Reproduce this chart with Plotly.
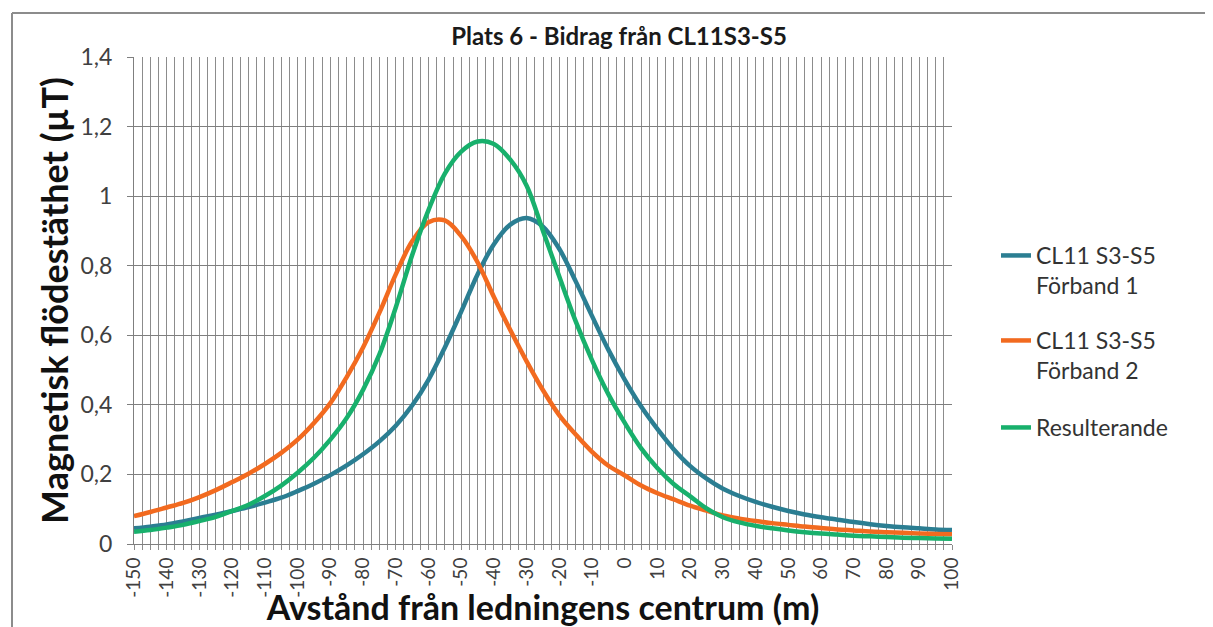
import plotly.graph_objects as go

# Distance from line centre (m)
distance_m = [-150, -145, -140, -135, -130, -125, -120, -115, -110, -105,
              -100, -95, -90, -85, -80, -75, -70, -65, -60, -55,
              -50, -45, -40, -35, -30, -25, -20, -15, -10, -5,
              0, 5, 10, 15, 20, 25, 30, 35, 40, 45,
              50, 55, 60, 65, 70, 75, 80, 85, 90, 95, 100]

# CL11 S3-S5 Förband 1 (µT)
forband_1 = [0.045, 0.050, 0.056, 0.065, 0.075, 0.084, 0.095, 0.106, 0.119, 0.133,
             0.152, 0.173, 0.198, 0.226, 0.258, 0.295, 0.340, 0.398, 0.472, 0.565,
             0.668, 0.775, 0.862, 0.918, 0.937, 0.912, 0.848, 0.755, 0.655, 0.558,
             0.472, 0.395, 0.330, 0.272, 0.224, 0.188, 0.159, 0.138, 0.121, 0.107,
             0.095, 0.085, 0.077, 0.070, 0.063, 0.057, 0.052, 0.048, 0.045, 0.042, 0.040]

# CL11 S3-S5 Förband 2 (µT)
forband_2 = [0.080, 0.092, 0.105, 0.118, 0.135, 0.155, 0.178, 0.202, 0.230, 0.262,
             0.300, 0.348, 0.405, 0.480, 0.565, 0.665, 0.775, 0.870, 0.925, 0.930,
             0.885, 0.810, 0.710, 0.615, 0.525, 0.442, 0.370, 0.315, 0.265, 0.225,
             0.197, 0.168, 0.146, 0.128, 0.110, 0.096, 0.082, 0.073, 0.066, 0.060,
             0.055, 0.050, 0.046, 0.042, 0.039, 0.036, 0.034, 0.032, 0.030, 0.029, 0.028]

# Resulterande (µT)
resulterande = [0.035, 0.040, 0.047, 0.055, 0.066, 0.078, 0.095, 0.113, 0.138, 0.168,
                0.205, 0.248, 0.300, 0.362, 0.443, 0.545, 0.680, 0.830, 0.960, 1.065,
                1.128, 1.157, 1.150, 1.105, 1.030, 0.900, 0.768, 0.640, 0.528, 0.430,
                0.348, 0.275, 0.218, 0.172, 0.137, 0.102, 0.077, 0.062, 0.052, 0.045,
                0.039, 0.034, 0.030, 0.027, 0.024, 0.022, 0.020, 0.018, 0.017, 0.016, 0.015]

series_names = ["CL11 S3-S5<br>Förband 1", "CL11 S3-S5<br>Förband 2", "Resulterande"]
series_colors = ["#2B7E92", "#F26A1F", "#18B06C"]

x_ticks = list(range(-150, 101, 10))
y_ticks = [0, 0.2, 0.4, 0.6, 0.8, 1.0, 1.2, 1.4]

FONT = "Lato, 'Open Sans', sans-serif"
OFF = 8  # page body margin
W, H = 1213 - OFF, 627 - OFF
L, R, T, B = 134 - OFF, 952 - OFF, 57 - OFF, 544 - OFF
pw, ph = R - L, B - T

def px(xp):  # reference-screen x -> paper fraction
    return (xp - OFF - L) / pw

def py(yp):  # reference-screen y -> paper fraction
    return (B - (yp - OFF)) / ph

fig = go.Figure()
legends = ["legend", "legend2", "legend3"]
for name, ys, col, lg in zip(series_names, [forband_1, forband_2, resulterande], series_colors, legends):
    fig.add_trace(go.Scatter(x=distance_m, y=ys, mode="lines", name=name,
                             line=dict(color=col, width=4.5, shape="spline", smoothing=1.0),
                             legend=lg))

leg_common = dict(font=dict(family=FONT, size=23, color="#333333"), bgcolor="rgba(0,0,0,0)",
                  xanchor="left", yanchor="top", valign="top", itemwidth=30, tracegroupgap=0)
legend_tops = [234, 319, 406]

layout_legends = {}
for lg, top in zip(legends, legend_tops):
    layout_legends[lg] = dict(x=px(996), y=py(top), **leg_common)

fig.update_layout(
    width=W, height=H,
    margin=dict(l=L, r=W - R, t=T, b=H - B, autoexpand=False),
    paper_bgcolor="white", plot_bgcolor="white",
    separators=", ",
    font=dict(family=FONT, color="#404040"),
    title=dict(text="<b>Plats 6 - Bidrag från CL11S3-S5</b>", xref="container", x=(619 - OFF) / W,
               xanchor="center", yref="container", y=1 - (37 - OFF) / H, yanchor="middle",
               font=dict(family=FONT, size=24, color="#1a1a1a")),
    showlegend=True,
    **layout_legends,
)

fig.update_xaxes(
    range=[-150, 100], tickmode="array", tickvals=x_ticks, ticktext=[str(v) for v in x_ticks],
    tickangle=-90, tickfont=dict(family=FONT, size=19, color="#404040"),
    showgrid=True, gridcolor="#8c8c8c", gridwidth=1,
    minor=dict(dtick=2.5, showgrid=True, gridcolor="#8c8c8c", gridwidth=1, ticks="outside",
               ticklen=5, tickcolor="#8c8c8c"),
    ticks="outside", ticklen=5, tickcolor="#8c8c8c",
    showline=True, linecolor="#7f7f7f", linewidth=1, zeroline=False, mirror=False,
    title=dict(text="<b>Avstånd från ledningens centrum (m)</b>", standoff=0,
               font=dict(family=FONT, size=34, color="#111111")),
    automargin=False,
)
fig.update_yaxes(
    range=[0, 1.4], tickmode="array", tickvals=y_ticks,
    tickfont=dict(family=FONT, size=23, color="#404040"),
    showgrid=True, gridcolor="#7f7f7f", gridwidth=1,
    ticks="outside", ticklen=6, tickcolor="#7f7f7f", ticklabelstandoff=10,
    showline=True, linecolor="#7f7f7f", linewidth=1, zeroline=False,
    title=dict(text="<b>Magnetisk flödestäthet (µT)</b>", standoff=0,
               font=dict(family=FONT, size=36, color="#111111")),
    automargin=False,
)

# outer chart border (top and left visible)
fig.add_shape(type="line", xref="paper", yref="paper", x0=px(12), x1=px(1213), y0=py(13), y1=py(13),
              line=dict(color="#8c8c8c", width=2))
fig.add_shape(type="line", xref="paper", yref="paper", x0=px(12), x1=px(12), y0=py(13), y1=py(627),
              line=dict(color="#8c8c8c", width=2))

fig.write_html("out.html")
